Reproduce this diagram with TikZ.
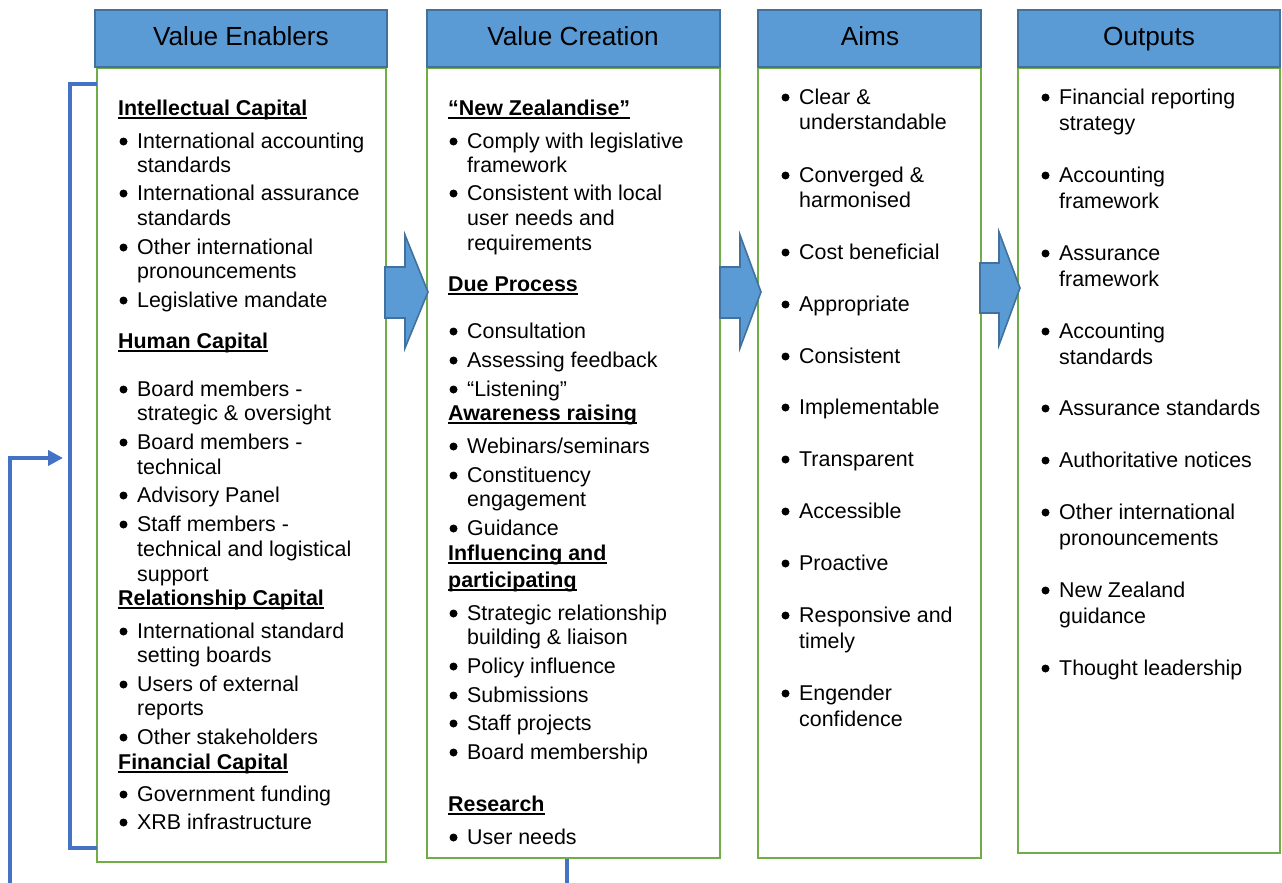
\documentclass[tikz,border=0pt]{standalone}
\usepackage{fontspec}
\setmainfont{Liberation Sans}
\usetikzlibrary{arrows.meta}
\definecolor{hdrfill}{HTML}{5B9BD5}
\definecolor{hdrline}{HTML}{41719C}
\definecolor{boxgreen}{HTML}{70AD47}
\definecolor{loopblue}{HTML}{4472C4}

\newcounter{lnc}
% bullet line: text x, baseline y, text
\newcommand\bitem[3]{\stepcounter{lnc}%
  \node[bulletdot] (bl\thelnc) at (#1-13.5,#2-6.5) {};%
  \node[bodytxt] (tl\thelnc) at (#1,#2) {#3};}
% continuation line of a bullet
\newcommand\contline[3]{\stepcounter{lnc}%
  \node[bodytxt] (cl\thelnc) at (#1,#2) {#3};}
% bold underlined sub-heading
\newcommand\hdg[3]{\stepcounter{lnc}%
  \node[headtxt] (hd\thelnc) at (#1,#2) {#3};%
  \draw[uline] ([yshift=-3pt]hd\thelnc.base west) -- ([yshift=-3pt]hd\thelnc.base east);}

\begin{document}
\begin{tikzpicture}[x=1pt,y=-1pt,
  bodytxt/.style={anchor=base west,inner sep=0pt,font=\fontsize{21.4}{25}\selectfont},
  headtxt/.style={bodytxt,font=\fontsize{21.4}{25}\selectfont\bfseries},
  bulletdot/.style={circle,fill=black,inner sep=0pt,minimum size=8pt},
  uline/.style={line width=1.8pt},
  hdrbox/.style={draw=hdrline,fill=hdrfill,line width=1.6pt},
  colbox/.style={draw=boxgreen,line width=2.2pt},
  hdrtxt/.style={anchor=base,inner sep=0pt,font=\fontsize{26.2}{30}\selectfont},
  blockarrow/.style={draw=hdrline,fill=hdrfill,line width=1.6pt,line join=miter},
  loopline/.style={draw=loopblue,line width=4pt}]
\useasboundingbox (0,0) rectangle (1282,883);

% column bodies
\draw[colbox] (97,68) rectangle (386,862);
\draw[colbox] (427,68) rectangle (720,858);
\draw[colbox] (758,68) rectangle (981,858);
\draw[colbox] (1018,68) rectangle (1280,853);

% column headers
\draw[hdrbox] (95,10) rectangle (387,67);
\draw[hdrbox] (427,10) rectangle (720,67);
\draw[hdrbox] (758,10) rectangle (981,67);
\draw[hdrbox] (1018,10) rectangle (1280,67);
\node[hdrtxt] (h1) at (241,46) {Value Enablers};
\node[hdrtxt] (h2) at (573,46) {Value Creation};
\node[hdrtxt] (h3) at (870,46) {Aims};
\node[hdrtxt] (h4) at (1149,46) {Outputs};

% block arrows between columns
\draw[blockarrow] (385,267) -- (405,267) -- (405,235) -- (428,292) -- (405,348) -- (405,318) -- (385,318) -- cycle;
\draw[blockarrow] (720,267) -- (740,267) -- (740,235) -- (761,292) -- (740,348) -- (740,318) -- (720,318) -- cycle;
\draw[blockarrow] (980,263) -- (999,263) -- (999,232) -- (1020,288) -- (999,345) -- (999,313) -- (980,313) -- cycle;

% bracket and feedback loop
\coordinate (brt) at (97,84);
\coordinate (brb) at (97,848);
\coordinate (loopin) at (10,883);
\coordinate (loopend) at (63,458);
\coordinate (rsout) at (567,883);
\draw[loopline] (brt) -- (70,84) -- (70,848) -- (brb);
\draw[loopline,-{Triangle[length=15pt,width=15pt]}] (loopin) |- (loopend);
\draw[loopline] (567,859) -- (rsout);

% Value Enablers
\hdg{118}{115}{Intellectual Capital}
\bitem{137}{148}{International accounting}
\contline{137}{172}{standards}
\bitem{137}{200}{International assurance}
\contline{137}{225}{standards}
\bitem{137}{254}{Other international}
\contline{137}{278}{pronouncements}
\bitem{137}{307}{Legislative mandate}
\hdg{118}{348}{Human Capital}
\bitem{137}{396}{Board members -}
\contline{137}{420}{strategic \& oversight}
\bitem{137}{449}{Board members -}
\contline{137}{474}{technical}
\bitem{137}{502}{Advisory Panel}
\bitem{137}{531}{Staff members -}
\contline{137}{556}{technical and logistical}
\contline{137}{581}{support}
\hdg{118}{605}{Relationship Capital}
\bitem{137}{638}{International standard}
\contline{137}{662}{setting boards}
\bitem{137}{691}{Users of external}
\contline{137}{715}{reports}
\bitem{137}{744}{Other stakeholders}
\hdg{118}{769}{Financial Capital}
\bitem{137}{801}{Government funding}
\bitem{137}{829}{XRB infrastructure}

% Value Creation
\hdg{448}{115}{“New Zealandise”}
\bitem{467}{148}{Comply with legislative}
\contline{467}{172}{framework}
\bitem{467}{200}{Consistent with local}
\contline{467}{225}{user needs and}
\contline{467}{250}{requirements}
\hdg{448}{291}{Due Process}
\bitem{467}{338}{Consultation}
\bitem{467}{367}{Assessing feedback}
\bitem{467}{396}{“Listening”}
\hdg{448}{420}{Awareness raising}
\bitem{467}{453}{Webinars/seminars}
\bitem{467}{482}{Constituency}
\contline{467}{506}{engagement}
\bitem{467}{535}{Guidance}
\hdg{448}{560}{Influencing and}
\hdg{448}{587}{participating}
\bitem{467}{620}{Strategic relationship}
\contline{467}{644}{building \& liaison}
\bitem{467}{673}{Policy influence}
\bitem{467}{702}{Submissions}
\bitem{467}{730}{Staff projects}
\bitem{467}{759}{Board membership}
\hdg{448}{811}{Research}
\bitem{467}{844}{User needs}

% Aims
\bitem{799}{104}{Clear \&}
\contline{799}{129}{understandable}
\bitem{799}{182}{Converged \&}
\contline{799}{207}{harmonised}
\bitem{799}{259}{Cost beneficial}
\bitem{799}{311}{Appropriate}
\bitem{799}{363}{Consistent}
\bitem{799}{414}{Implementable}
\bitem{799}{466}{Transparent}
\bitem{799}{518}{Accessible}
\bitem{799}{570}{Proactive}
\bitem{799}{622}{Responsive and}
\contline{799}{648}{timely}
\bitem{799}{700}{Engender}
\contline{799}{726}{confidence}

% Outputs
\bitem{1059}{104}{Financial reporting}
\contline{1059}{130}{strategy}
\bitem{1059}{182}{Accounting}
\contline{1059}{208}{framework}
\bitem{1059}{260}{Assurance}
\contline{1059}{286}{framework}
\bitem{1059}{338}{Accounting}
\contline{1059}{364}{standards}
\bitem{1059}{415}{Assurance standards}
\bitem{1059}{467}{Authoritative notices}
\bitem{1059}{519}{Other international}
\contline{1059}{545}{pronouncements}
\bitem{1059}{597}{New Zealand}
\contline{1059}{623}{guidance}
\bitem{1059}{675}{Thought leadership}
\end{tikzpicture}
\end{document}
